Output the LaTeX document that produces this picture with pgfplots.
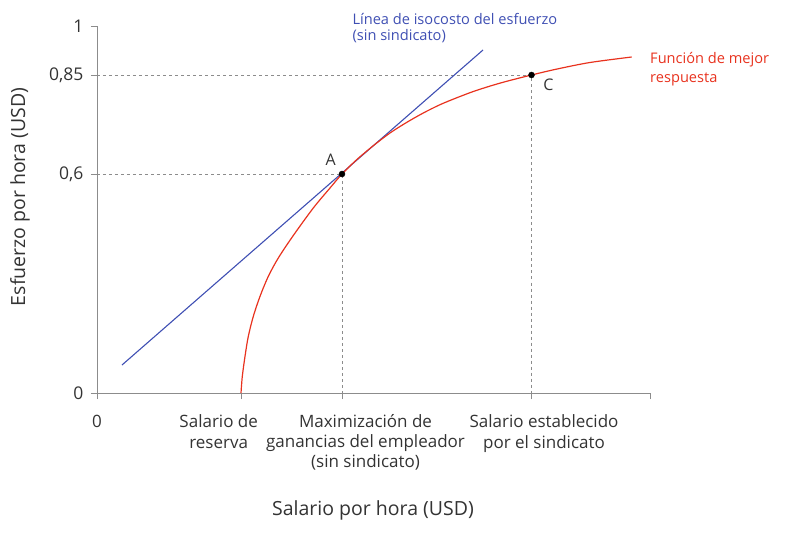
\documentclass[border=0pt]{standalone}
\usepackage{pgfplots}
\pgfplotsset{compat=1.18}
\usepackage{fontspec}
\setmainfont{Open Sans}
\definecolor{isoblue}{HTML}{3F4FB3}
\definecolor{brred}{HTML}{E8321E}
\definecolor{axgray}{HTML}{8C8C8C}
\definecolor{txtgray}{HTML}{333333}

\begin{document}
\begin{tikzpicture}
\useasboundingbox (-97pt,-139pt) rectangle (713pt,393pt);
\begin{axis}[
  scale only axis,
  width=553pt, height=367pt,
  xmin=0, xmax=553, ymin=0, ymax=367,
  axis lines=left,
  axis line style={-, draw=axgray, line width=0.9pt},
  tick align=outside,
  major tick length=6pt,
  tick style={axgray, line width=0.9pt},
  xtick={0,144,245,434.5,553},
  xticklabels={},
  ytick={0,219,318,367},
  yticklabels={0,{0,6},{0,85},1},
  yticklabel style={text=txtgray, font=\fontsize{17.5}{20}\selectfont, xshift=-4pt},
  clip=false,
]
% guide lines
\addplot[axgray, dashed, line width=0.8pt] coordinates {(0,219) (245,219) (245,0)};
\addplot[axgray, dashed, line width=0.8pt] coordinates {(0,318) (434.5,318) (434.5,0)};
% isocost line
\addplot[isoblue, line width=1.1pt] coordinates {(25,28) (386,343)};
% best response function
\addplot[brred, line width=1.2pt, smooth, tension=0.5] coordinates {
  (144,0) (145.3,16.6) (148,36.6) (151.3,56.6) (156.3,76.6) (163,96.6)
  (171.3,116.6) (181.3,135) (196.3,157.5) (216.3,185) (233,205)
  (245,219) (259.7,233.3) (276.3,247.3) (293,260) (309.7,270.6)
  (326.3,280) (343,288.3) (359.7,295.2) (376.3,301.5) (393,306.9)
  (409.7,311.7) (434.5,318) (459.7,323.9) (493,330.5) (534.7,336)
};
% points
\addplot[only marks, mark=*, mark size=3pt, black] coordinates {(245,219) (434.5,318)};

\node[text=txtgray, font=\fontsize{16}{18}\selectfont] at (axis cs:233.7,233) {A};
\node[text=txtgray, font=\fontsize{16}{18}\selectfont] at (axis cs:451.3,308) {C};
\node[text=isoblue, anchor=base west, font=\fontsize{14.6}{17}\selectfont] at (axis cs:252,368.3) {Línea de isocosto del esfuerzo};
\node[text=isoblue, anchor=base west, font=\fontsize{14.6}{17}\selectfont] at (axis cs:252,352.6) {(sin sindicato)};
\node[text=brred, anchor=base west, font=\fontsize{14.6}{17}\selectfont] at (axis cs:549.7,329.3) {Función de mejor};
\node[text=brred, anchor=base west, font=\fontsize{14.6}{17}\selectfont] at (axis cs:549.7,310.6) {respuesta};
% x tick labels
\begin{scope}[every node/.style={text=txtgray, anchor=base, font=\fontsize{17}{20}\selectfont}]
\node at (axis cs:0,-34.2) {0};
\node at (axis cs:121.7,-34.2) {Salario de};
\node at (axis cs:121.7,-55) {reserva};
\node at (axis cs:268.5,-34.2) {Maximización de};
\node at (axis cs:268.5,-54.2) {ganancias del empleador};
\node at (axis cs:268.5,-74.2) {(sin sindicato)};
\node at (axis cs:447,-34.2) {Salario establecido};
\node at (axis cs:447,-55) {por el sindicato};
\end{scope}
\node[text=txtgray, anchor=base, font=\fontsize{19.5}{22}\selectfont] at (axis cs:276,-122.7) {Salario por hora (USD)};
\node[text=txtgray, rotate=90, font=\fontsize{19.5}{22}\selectfont] at (axis cs:-77,196) {Esfuerzo por hora (USD)};
\end{axis}
\end{tikzpicture}
\end{document}
